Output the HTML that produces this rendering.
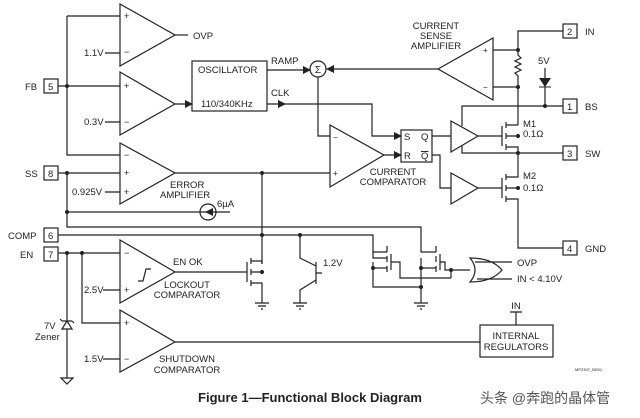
<!DOCTYPE html>
<html><head><meta charset="utf-8"><style>
html,body{margin:0;padding:0;background:#fff;}
svg{display:block;}
text{font-family:"Liberation Sans",sans-serif;font-size:9.5px;fill:#222;}
</style></head><body>
<svg width="640" height="418" viewBox="0 0 640 418" xmlns="http://www.w3.org/2000/svg">
<defs><marker id="a" markerWidth="8" markerHeight="8" refX="7" refY="4" orient="auto" markerUnits="userSpaceOnUse"><path d="M0,0 L8,4 L0,8 z" fill="#222"/></marker></defs>
<g stroke="#222" stroke-width="1.2" fill="none">
<path d="M120,4 L175,35 L120,66 Z"/>
<path d="M120,72 L175,104 L120,135 Z"/>
<path d="M120,143 L175,173 L120,204 Z"/>
<path d="M120,240 L175,272 L120,303 Z"/>
<path d="M120,310 L175,342 L120,372 Z"/>
<path d="M175,35 H188"/>
<path d="M105,53 H120 M105,122 H120 M105,192 H120 M103,290 H120 M103,359 H120"/>
<rect x="44" y="79" width="14" height="14"/>
<path d="M58,86 H120 M67,16 V155 H120 M67,16 H120"/>
<rect x="44" y="166" width="14" height="14"/>
<path d="M58,173 H120 M67,173 V227 H421 V252"/>
<path d="M67,212 H230"/>
<circle cx="208" cy="212" r="8"/>
<rect x="192" y="61" width="75" height="50"/>
<path d="M175,104 H192" marker-end="url(#a)"/>
<path d="M267,70 H310" marker-end="url(#a)"/>
<path d="M267,104 H285" marker-end="url(#a)"/>
<path d="M283,104 H372 V136 H401" marker-end="url(#a)"/>
<circle cx="318" cy="69" r="8"/>
<path d="M438,69 H327" marker-end="url(#a)"/>
<path d="M318,77 V136 H330"/>
<path d="M175,173 H330"/>
<path d="M262,173 V264"/>
<path d="M330,125 L384,155 L330,187 Z"/>
<path d="M384,155 H401" marker-end="url(#a)"/>
<rect x="401" y="130" width="31" height="32"/>
<path d="M432,136 H451 M432,155 H440 V188 H451"/>
<path d="M451,121 L478,136 L451,152 Z"/>
<path d="M451,173 L478,188 L451,204 Z"/>
<path d="M462,126 V106 H563 M462,146 V153 H563"/>
<path d="M493,38 L438,69 L493,100 Z"/>
<path d="M493,50 H518 M493,87 H518"/>
<rect x="563" y="24" width="14" height="14"/>
<path d="M563,31 H518 V55 l3,3 l-6,3 l6,3 l-6,3 l6,3 l-6,3 l3,3 V113"/>
<rect x="563" y="99" width="14" height="14"/>
<rect x="563" y="146" width="14" height="14"/>
<rect x="563" y="241" width="14" height="14"/>
<path d="M545,68 V106"/>
<path d="M518,113 V125"/>
<path d="M478,136 H502 M502,126 V146 M506,122 V128 M506,133 V139 M506,144 V150 M506,125 H518 M506,136 H518 M506,147 H518 V153"/>
<path d="M478,188 H502 M502,178 V198 M506,174 V180 M506,185 V191 M506,196 V202 M506,177 H518 V153 M506,188 H518 M506,199 H518 V248 H563"/>
<rect x="44" y="228" width="14" height="14"/>
<path d="M58,235 H373 V252 H387"/>
<rect x="44" y="247" width="14" height="14"/>
<path d="M58,253 H120 M67,253 V321 M82,253 V323 H120 M67,329 V378"/>
<path d="M62,321 H72 M62,321 l-2,-2 M72,321 l2,2 M62,329 L67,321 L72,329 Z"/>
<path d="M61,378 H73 L67,384 Z"/>
<path d="M138,281 h5 l3,-12 h5"/>
<path d="M175,272 H247 M247,262 V282 M251,258 V264 M251,269 V275 M251,280 V286 M251,261 H262 M251,272 H262 M251,283 H262 V303 M262,261 V264"/>
<path d="M300,235 V258 L316,266 M316,262 V284 M316,273 H322 M316,280 L300,290 V303"/>
<path d="M373,252 V258 H387 M387,246 V252 M387,256 V262 M387,266 V272 M391,254 V270 M373,268 H387 M373,262 V287 H421 M391,262 H400 V278 H451"/>
<path d="M421,252 H436 M436,246 V252 M436,256 V262 M436,266 V272 M440,254 V270 M421,268 H436 M421,258 V303 M440,262 H445 V270 H470 M451,270 V278"/>
<path d="M255,303 H269 M258,306 H266 M261,309 H263 M293,303 H307 M296,306 H304 M299,309 H301 M414,303 H428 M417,306 H425 M420,309 H422"/>
<path d="M470,258 Q480,270 470,282 Q492,282 502,270 Q492,258 470,258 Z"/>
<path d="M475,262 H512 M477,279 H512"/>
<path d="M175,342 H480"/>
<rect x="480" y="325" width="73" height="32"/>
<path d="M516,325 V312 M510,312 H522"/>
</g>
<g fill="#222">
<circle cx="67" cy="86" r="2"/><circle cx="67" cy="173" r="2"/><circle cx="67" cy="212" r="2"/>
<circle cx="262" cy="173" r="2"/><circle cx="262" cy="235" r="2"/><circle cx="300" cy="235" r="2"/>
<circle cx="67" cy="253" r="2"/><circle cx="82" cy="253" r="2"/>
<circle cx="518" cy="50" r="2"/><circle cx="518" cy="87" r="2"/><circle cx="545" cy="106" r="2"/>
<circle cx="518" cy="136" r="2"/><circle cx="518" cy="153" r="2"/><circle cx="518" cy="188" r="2"/>
<circle cx="262" cy="272" r="2"/><circle cx="373" cy="268" r="2"/><circle cx="421" cy="268" r="2"/><circle cx="421" cy="287" r="2"/><circle cx="451" cy="270" r="2"/>
<path d="M539,78 H551 L545,87 Z"/><path d="M539,87 H551" stroke="#222"/>
<path d="M213,208 L205,212 L213,216 Z"/>
</g>
<text x="193" y="39">OVP</text>
<text x="84" y="56">1.1V</text>
<text x="84" y="125">0.3V</text>
<text x="72" y="195">0.925V</text>
<text x="25" y="90">FB</text><text x="48" y="90">5</text>
<text x="25" y="177">SS</text><text x="48" y="177">8</text>
<text x="8" y="239">COMP</text><text x="48" y="239">6</text>
<text x="20" y="258">EN</text><text x="48" y="258">7</text>
<text x="124" y="19" style="font-size:9px">+</text><text x="124" y="55" style="font-size:9px">−</text>
<text x="124" y="89" style="font-size:9px">+</text><text x="124" y="125" style="font-size:9px">−</text>
<text x="124" y="158" style="font-size:9px">−</text><text x="124" y="176" style="font-size:9px">+</text><text x="124" y="195" style="font-size:9px">+</text>
<text x="124" y="256" style="font-size:9px">−</text><text x="124" y="293" style="font-size:9px">+</text>
<text x="124" y="326" style="font-size:9px">+</text><text x="124" y="362" style="font-size:9px">−</text>
<text x="198" y="73">OSCILLATOR</text>
<text x="201" y="107">110/340KHz</text>
<text x="271" y="64">RAMP</text><text x="271" y="96">CLK</text>
<text x="318" y="73" text-anchor="middle" style="font-size:10px">Σ</text>
<text x="170" y="188">ERROR</text><text x="160" y="198">AMPLIFIER</text>
<text x="217" y="207">6µA</text>
<text x="436" y="29" text-anchor="middle">CURRENT</text><text x="436" y="39" text-anchor="middle">SENSE</text><text x="436" y="49" text-anchor="middle">AMPLIFIER</text>
<text x="483" y="53" style="font-size:8px">+</text><text x="483" y="90" style="font-size:8px">−</text>
<text x="333" y="140" style="font-size:8px">−</text><text x="333" y="176" style="font-size:8px">+</text>
<text x="393" y="175" text-anchor="middle">CURRENT</text><text x="393" y="185" text-anchor="middle">COMPARATOR</text>
<text x="404" y="140">S</text><text x="421" y="140">Q</text><text x="404" y="159">R</text><text x="421" y="159" text-decoration="overline">Q</text>
<text x="585" y="35">IN</text><text x="567" y="35">2</text>
<text x="585" y="110">BS</text><text x="567" y="110">1</text>
<text x="585" y="157">SW</text><text x="567" y="157">3</text>
<text x="585" y="252">GND</text><text x="567" y="252">4</text>
<text x="538" y="64">5V</text>
<text x="523" y="127">M1</text><text x="523" y="137">0.1Ω</text>
<text x="523" y="179">M2</text><text x="523" y="191">0.1Ω</text>
<text x="173" y="265">EN OK</text>
<text x="187" y="288" text-anchor="middle">LOCKOUT</text><text x="187" y="298" text-anchor="middle">COMPARATOR</text>
<text x="187" y="362" text-anchor="middle">SHUTDOWN</text><text x="187" y="373" text-anchor="middle">COMPARATOR</text>
<text x="84" y="293">2.5V</text><text x="84" y="362">1.5V</text>
<text x="44" y="329">7V</text><text x="35" y="340">Zener</text>
<text x="323" y="266">1.2V</text>
<text x="517" y="266">OVP</text><text x="517" y="282">IN &lt; 4.10V</text>
<text x="516" y="309" text-anchor="middle">IN</text>
<text x="516" y="339" text-anchor="middle">INTERNAL</text><text x="516" y="350" text-anchor="middle">REGULATORS</text>
<text x="575" y="371" style="font-size:4px">MP2307_BD01</text>
<text x="310" y="402" text-anchor="middle" style="font-size:13px;font-weight:bold">Figure 1—Functional Block Diagram</text>
<text x="480" y="403" style="font-size:14px;fill:#555;font-family:'Liberation Sans','Noto Sans CJK SC',sans-serif">头条 @奔跑的晶体管</text>
</svg>
</body></html>
